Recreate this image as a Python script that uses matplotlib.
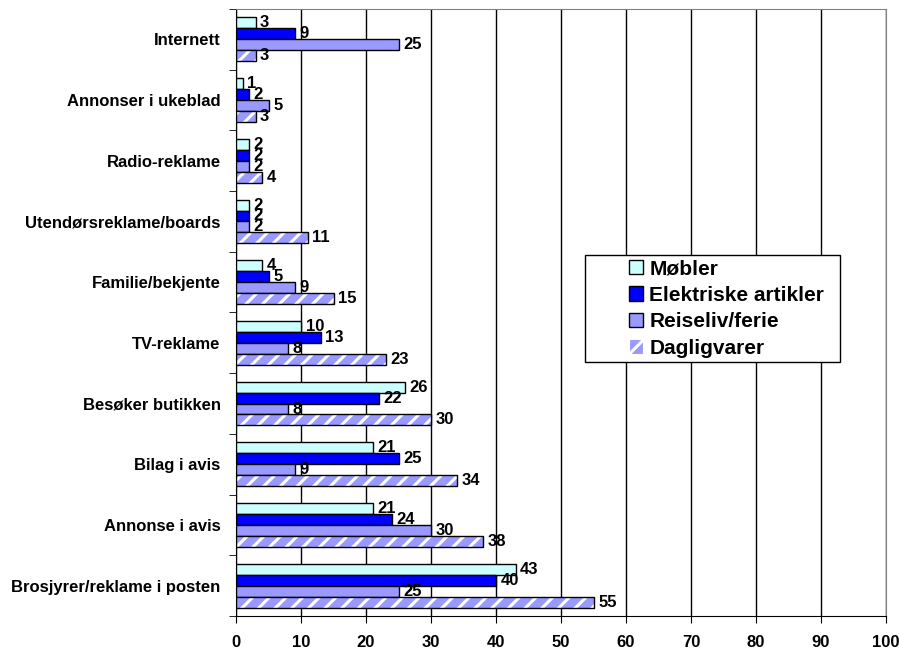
import matplotlib
matplotlib.use("Agg")
import matplotlib.pyplot as plt
import numpy as np
from matplotlib.patches import Patch, Rectangle

plt.rcParams['font.family'] = ['Liberation Sans', 'DejaVu Sans']
plt.rcParams['hatch.linewidth'] = 2.2

categories = ["Brosjyrer/reklame i posten", "Annonse i avis", "Bilag i avis",
              "Besøker butikken", "TV-reklame", "Familie/bekjente",
              "Utendørsreklame/boards", "Radio-reklame", "Annonser i ukeblad",
              "Internett"]
series_names = ["Møbler", "Elektriske artikler", "Reiseliv/ferie", "Dagligvarer"]
mobler = [43, 21, 21, 26, 10, 4, 2, 2, 1, 3]
elektriske = [40, 24, 25, 22, 13, 5, 2, 2, 2, 9]
reiseliv = [25, 30, 9, 8, 8, 9, 2, 2, 5, 25]
dagligvarer = [55, 38, 34, 30, 23, 15, 11, 4, 3, 3]
xticks = [0, 10, 20, 30, 40, 50, 60, 70, 80, 90, 100]

W, H = 899, 650
fig = plt.figure(figsize=(W/100, H/100), dpi=100)
ax = fig.add_axes([236/W, 34/H, 650/W, 607/H])

y = np.arange(len(categories))
h = 0.18
offsets = [1.5*h, 0.5*h, -0.5*h, -1.5*h]
colors = ["#CCFFFF", "#0000FF", "#9999FF", "#9999FF"]
data = [mobler, elektriske, reiseliv, dagligvarer]

for i, (vals, col) in enumerate(zip(data, colors)):
    ypos = y + offsets[i]
    if i == 3:
        ax.barh(ypos, vals, height=h, color=col, edgecolor="white", hatch="//",
                linewidth=0, zorder=3)
        ax.barh(ypos, vals, height=h, fill=False, edgecolor="black",
                linewidth=1, zorder=4)
    else:
        ax.barh(ypos, vals, height=h, color=col, edgecolor="black",
                linewidth=1, zorder=3)
    for yy, v in zip(ypos, vals):
        ax.text(v + 0.7, yy, str(v), va="center", ha="left",
                fontsize=12, fontweight="bold", zorder=5)

ax.set_xlim(0, 100)
ax.set_ylim(-0.5, len(categories) - 0.5)
ax.set_xticks(xticks)
ax.set_xticklabels([str(t) for t in xticks], fontsize=12, fontweight="bold")
ax.set_yticks(y)
ax.set_yticklabels(categories, fontsize=12, fontweight="bold")
ax.tick_params(axis='y', length=0, pad=11)
ax.set_yticks(np.arange(-0.5, len(categories), 1), minor=True)
ax.tick_params(axis='y', which='minor', length=5, direction='out')
ax.tick_params(axis='x', length=5, direction='out', pad=9)
ax.xaxis.grid(True, color="black", linewidth=1, zorder=0)
ax.set_axisbelow(True)
for s in ["top", "right"]:
    ax.spines[s].set_color("#808080")
for s in ["left", "bottom"]:
    ax.spines[s].set_color("black")

# legend box
box = Rectangle((585/W, (H-362)/H), 255/W, 107/H, transform=fig.transFigure,
                facecolor="white", edgecolor="black", linewidth=1, zorder=10)
fig.patches.append(box)

handles = [Patch(facecolor=colors[0], edgecolor="black"),
           Patch(facecolor=colors[1], edgecolor="black"),
           Patch(facecolor=colors[2], edgecolor="black"),
           Patch(facecolor=colors[3], edgecolor="white", hatch="//", linewidth=0.8)]
leg = fig.legend(handles, series_names, loc="center left",
                 bbox_to_anchor=(629/W, (H-308.5)/H), bbox_transform=fig.transFigure,
                 prop={"weight": "bold", "size": 15}, frameon=False,
                 handlelength=0.68, handleheight=0.68, handletextpad=0.3,
                 labelspacing=0.36, borderpad=0, borderaxespad=0)
leg.set_zorder(11)

fig.savefig("out.png", dpi=100)
